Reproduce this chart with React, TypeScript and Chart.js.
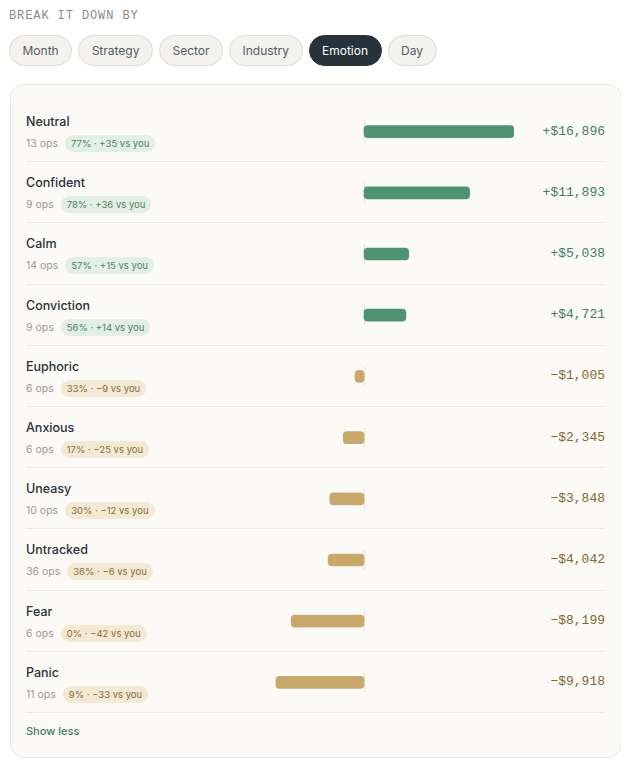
import React, { useEffect, useRef } from "react";
import { Chart, registerables } from "chart.js";

Chart.register(...registerables);

const tabs = ["Month", "Strategy", "Sector", "Industry", "Emotion", "Day"];
const activeTab = "Emotion";
const categories = ["Neutral", "Confident", "Calm", "Conviction", "Euphoric", "Anxious", "Uneasy", "Untracked", "Fear", "Panic"];
const pnl = [16896, 11893, 5038, 4721, -1005, -2345, -3848, -4042, -8199, -9918];
const ops = [13, 9, 14, 9, 6, 6, 10, 36, 6, 11];
const winRate = [77, 78, 57, 56, 33, 17, 30, 36, 0, 9];
const vsYou = [35, 36, 15, 14, -9, -25, -12, -6, -42, -33];

const GREEN = "#4f9373";
const GOLD = "#c9a86b";
const GREEN_TEXT = "#3f7f5c";
const GOLD_TEXT = "#86672f";
const ROW_H = 61.2;
const SANS = "Inter, 'Noto Sans', sans-serif";
const MONO = "'Liberation Mono', 'DejaVu Sans Mono', monospace";

const fmtMoney = (v: number) => (v >= 0 ? "+" : "\u2212") + "$" + Math.abs(v).toLocaleString("en-US");
const fmtBadge = (w: number, d: number) => `${w}% · ${d >= 0 ? "+" : "\u2212"}${Math.abs(d)} vs you`;

const zeroLinePlugin = {
  id: "zeroLines",
  beforeDatasetsDraw(chart: any) {
    const { ctx, scales } = chart;
    const x = Math.round(scales.x.getPixelForValue(0)) + 0.5;
    ctx.save();
    ctx.strokeStyle = "#e2e0da";
    ctx.lineWidth = 1;
    categories.forEach((_, i) => {
      const y = scales.y.getPixelForValue(i);
      ctx.beginPath();
      ctx.moveTo(x, y - 10);
      ctx.lineTo(x, y + 10);
      ctx.stroke();
    });
    ctx.restore();
  },
};

function BarsChart() {
  const ref = useRef<HTMLCanvasElement | null>(null);
  useEffect(() => {
    if (!ref.current) return;
    const maxAbs = Math.max(...pnl.map((v) => Math.abs(v)));
    const chart = new Chart(ref.current, {
      type: "bar",
      data: {
        labels: categories,
        datasets: [
          {
            data: pnl,
            backgroundColor: pnl.map((v) => (v >= 0 ? GREEN : GOLD)),
            borderRadius: 4,
            borderSkipped: false,
            barThickness: 12,
          },
        ],
      },
      options: {
        indexAxis: "y",
        animation: false,
        responsive: true,
        maintainAspectRatio: false,
        layout: { padding: 0 },
        plugins: { legend: { display: false }, tooltip: { enabled: false } },
        scales: {
          x: { display: false, min: -maxAbs, max: maxAbs, grid: { display: false } },
          y: { display: false, grid: { display: false } },
        },
      },
      plugins: [zeroLinePlugin],
    } as any);
    return () => chart.destroy();
  }, []);
  return <canvas ref={ref} />;
}

export default function App() {
  return (
    <div style={{ fontFamily: SANS, position: "relative", width: 613 }}>
      <div
        style={{
          fontFamily: MONO,
          fontSize: 12,
          lineHeight: "16px",
          letterSpacing: 0.9,
          color: "#8c8a83",
          height: 16,
          marginLeft: 1,
        }}
      >
        BREAK IT DOWN BY
      </div>
      <div style={{ display: "flex", gap: 6, marginTop: 11, marginLeft: 1, height: 32 }}>
        {tabs.map((t) => {
          const active = t === activeTab;
          return (
            <div
              key={t}
              style={{
                height: 31,
                boxSizing: "border-box",
                padding: "0 12.5px",
                borderRadius: 16,
                border: active ? "1px solid #27323a" : "1px solid #dcdad3",
                background: active ? "#27323a" : "#f3f2ed",
                color: active ? "#ffffff" : "#535b64",
                fontSize: 12,
                lineHeight: "29px",
              }}
            >
              {t}
            </div>
          );
        })}
      </div>
      <div
        style={{
          marginTop: 17,
          marginLeft: 2,
          width: 612,
          boxSizing: "border-box",
          background: "#fbfaf7",
          border: "1px solid #e8e6e0",
          borderRadius: 14,
          padding: "16px 16px 18px 15px",
          position: "relative",
        }}
      >
        <div style={{ position: "relative" }}>
          {categories.map((c, i) => {
            const pos = pnl[i] >= 0;
            return (
              <div
                key={c}
                style={{
                  position: "relative",
                  height: ROW_H,
                  boxSizing: "border-box",
                  borderBottom: "1px solid #ebe9e3",
                }}
              >
                <div style={{ position: "absolute", left: 0, top: 12 }}>
                  <div style={{ fontSize: 12.5, lineHeight: "18px", color: "#2a3138", fontWeight: 500 }}>{c}</div>
                  <div style={{ display: "flex", alignItems: "center", marginTop: 4, height: 17 }}>
                    <span style={{ fontSize: 10.5, color: "#9b9992" }}>{ops[i]} ops</span>
                    <span
                      style={{
                        marginLeft: 7,
                        height: 17,
                        lineHeight: "17px",
                        padding: "0 6px",
                        borderRadius: 9,
                        fontSize: 9.5,
                        fontWeight: 400,
                        background: pos ? "#e3eee5" : "#f3e9d5",
                        color: pos ? "#4a8463" : "#8a6a38",
                      }}
                    >
                      {fmtBadge(winRate[i], vsYou[i])}
                    </span>
                  </div>
                </div>
                <div
                  style={{
                    position: "absolute",
                    right: 0,
                    top: 0,
                    height: ROW_H - 1,
                    display: "flex",
                    alignItems: "center",
                    fontFamily: MONO,
                    fontSize: 13,
                    color: pos ? GREEN_TEXT : GOLD_TEXT,
                  }}
                >
                  {fmtMoney(pnl[i])}
                </div>
              </div>
            );
          })}
          <div
            style={{
              position: "absolute",
              left: 188,
              top: 0,
              width: 300,
              height: ROW_H * categories.length,
            }}
          >
            <BarsChart />
          </div>
        </div>
        <div style={{ marginTop: 10, fontSize: 11, lineHeight: "16px", color: GREEN_TEXT, fontWeight: 500 }}>
          Show less
        </div>
      </div>
    </div>
  );
}
